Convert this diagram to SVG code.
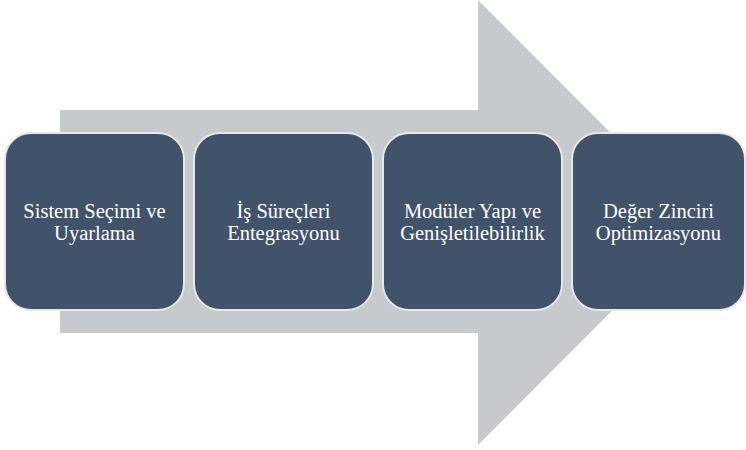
<svg xmlns="http://www.w3.org/2000/svg" width="746" height="450" viewBox="0 0 746 450">
  <style>
    .box { fill: #41536A; stroke: #E6E7E8; stroke-width: 2; }
    .lbl { font-family: "Liberation Serif", "Times New Roman", "DejaVu Serif", serif; font-size: 20.5px; fill: #FFFFFF; text-anchor: middle; }
  </style>
  <!-- background arrow -->
  <g id="arrow">
    <path d="M60 110 H478 V0 L700 222.5 L478 445 V333 H60 Z" fill="#C7CACD"/>
  </g>
  <g id="step1">
    <rect class="box" x="5" y="133" width="179" height="177" rx="26"/>
    <text class="lbl" x="94.5" y="218">Sistem Seçimi ve</text>
    <text class="lbl" x="94.5" y="240">Uyarlama</text>
  </g>
  <g id="step2">
    <rect class="box" x="194" y="133" width="179" height="177" rx="26"/>
    <text class="lbl" x="283.5" y="218">İş Süreçleri</text>
    <text class="lbl" x="283.5" y="240">Entegrasyonu</text>
  </g>
  <g id="step3">
    <rect class="box" x="383" y="133" width="179" height="177" rx="26"/>
    <text class="lbl" x="472.5" y="218">Modüler Yapı ve</text>
    <text class="lbl" x="472.5" y="240">Genişletilebilirlik</text>
  </g>
  <g id="step4">
    <rect class="box" x="572" y="133" width="173" height="177" rx="26"/>
    <text class="lbl" x="658.5" y="218">Değer Zinciri</text>
    <text class="lbl" x="658.5" y="240">Optimizasyonu</text>
  </g>
  <g id="connectors"></g>
</svg>
